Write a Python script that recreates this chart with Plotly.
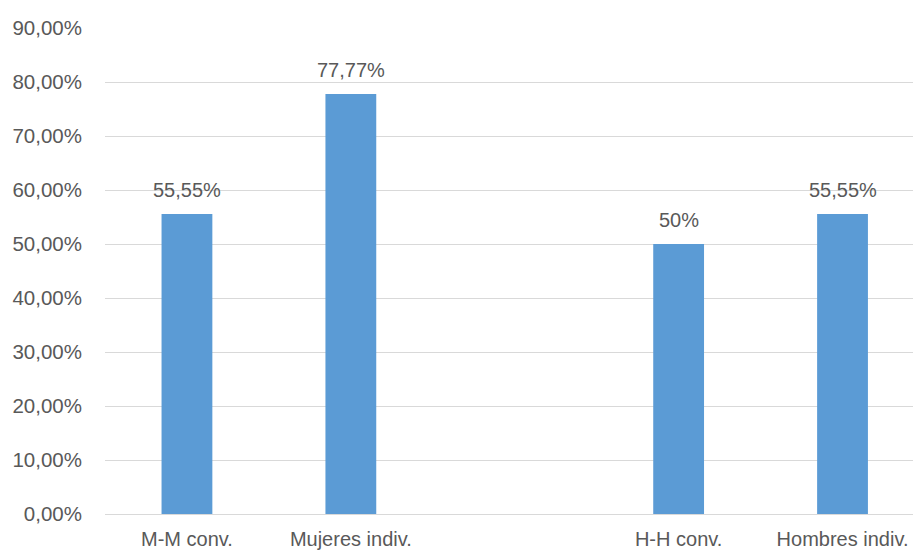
import plotly.graph_objects as go

# Share of each group (percent); the blank slot separates women from men
categories = ["M-M conv.", "Mujeres indiv.", " ", "H-H conv.", "Hombres indiv."]
values = [55.55, 77.77, None, 50.0, 55.55]
y_ticks = [0, 10, 20, 30, 40, 50, 60, 70, 80, 90]


def pct_label(v):
    return f"{v:g}".replace(".", ",") + "%"


tick_text = [f"{t:.2f}".replace(".", ",") + "%" for t in y_ticks]

FONT = "Liberation Sans"
GREY = "#595959"

fig = go.Figure(
    go.Bar(
        x=categories,
        y=values,
        width=0.31,
        marker=dict(color="#5B9BD5", line=dict(width=0)),
        hoverinfo="x+y",
    )
)

# value labels above each bar
for cat, v in zip(categories, values):
    if v is None:
        continue
    fig.add_annotation(
        x=cat,
        y=v,
        text=pct_label(v),
        showarrow=False,
        yanchor="bottom",
        yshift=11,
        font=dict(family=FONT, size=20, color=GREY),
    )

fig.update_layout(
    width=913,
    height=553,
    margin=dict(l=105, r=0, t=28, b=39),
    plot_bgcolor="white",
    paper_bgcolor="white",
    showlegend=False,
    font=dict(family=FONT, size=20, color=GREY),
    xaxis=dict(
        type="category",
        range=[-0.5, 4.43],
        automargin=False,
        showgrid=False,
        showline=True,
        linecolor="#D9D9D9",
        linewidth=1,
        ticks="",
        ticklabelstandoff=7,
        tickfont=dict(family=FONT, size=20, color=GREY),
    ),
    yaxis=dict(
        range=[0, 90],
        automargin=False,
        tickvals=y_ticks,
        ticktext=tick_text,
        showgrid=True,
        gridcolor="#D9D9D9",
        gridwidth=1,
        zeroline=False,
        showline=False,
        ticks="",
        ticklabelstandoff=22,
        tickfont=dict(family=FONT, size=20.5, color=GREY),
    ),
)

fig.write_html("out.html")
